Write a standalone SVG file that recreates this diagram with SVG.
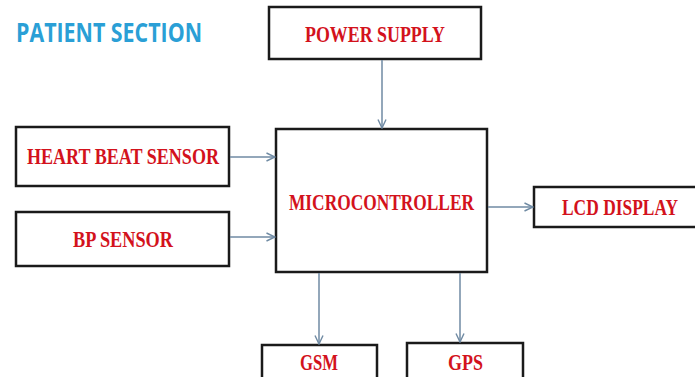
<svg xmlns="http://www.w3.org/2000/svg" width="695" height="377" viewBox="0 0 695 377">
<defs>
<marker id="arr" viewBox="0 0 10 10" refX="9.5" refY="5" markerWidth="10" markerHeight="10" markerUnits="userSpaceOnUse" orient="auto">
<path d="M1,1 L9.5,5 L1,9" fill="none" stroke="#6f8aa3" stroke-width="1.4"/>
</marker>
</defs>
<style>
.box{fill:#fff;stroke:#1a1a1a;stroke-width:2.5}
.lbl{font-family:"Liberation Serif","Times New Roman",serif;font-weight:bold;font-size:23px;fill:#d3121c}
.conn{stroke:#6f8aa3;stroke-width:1.5;fill:none;marker-end:url(#arr)}
.title{font-family:"Open Sans","Liberation Sans",Arial,sans-serif;font-weight:bold;font-size:26px;fill:#2a9fd6}
</style>
<rect width="695" height="377" fill="#fff"/>
<text class="title" x="16" y="42" textLength="186" lengthAdjust="spacingAndGlyphs">PATIENT SECTION</text>
<g id="power">
<rect class="box" x="269" y="7" width="212" height="52"/>
<text class="lbl" x="305" y="42" textLength="140" lengthAdjust="spacingAndGlyphs">POWER SUPPLY</text>
</g>
<g id="heart">
<rect class="box" x="16" y="127" width="213" height="59"/>
<text class="lbl" x="27" y="164" textLength="192" lengthAdjust="spacingAndGlyphs">HEART BEAT SENSOR</text>
</g>
<g id="bp">
<rect class="box" x="16" y="212" width="213" height="54"/>
<text class="lbl" x="73" y="247" textLength="100" lengthAdjust="spacingAndGlyphs">BP SENSOR</text>
</g>
<g id="mcu">
<rect class="box" x="276" y="129" width="211" height="143"/>
<text class="lbl" x="289" y="210" textLength="185" lengthAdjust="spacingAndGlyphs">MICROCONTROLLER</text>
</g>
<g id="lcd">
<rect class="box" x="534" y="187" width="170" height="40"/>
<text class="lbl" x="562" y="215" textLength="116" lengthAdjust="spacingAndGlyphs">LCD DISPLAY</text>
</g>
<g id="gsm">
<rect class="box" x="262" y="345" width="115" height="40"/>
<text class="lbl" x="300" y="370" textLength="38" lengthAdjust="spacingAndGlyphs">GSM</text>
</g>
<g id="gps">
<rect class="box" x="407" y="343" width="116" height="42"/>
<text class="lbl" x="448" y="370" textLength="35" lengthAdjust="spacingAndGlyphs">GPS</text>
</g>
<g id="connectors">
<line class="conn" x1="382" y1="60" x2="382" y2="128"/>
<line class="conn" x1="230" y1="157" x2="275" y2="157"/>
<line class="conn" x1="230" y1="237" x2="275" y2="237"/>
<line class="conn" x1="488" y1="207" x2="533" y2="207"/>
<line class="conn" x1="319" y1="273" x2="319" y2="344"/>
<line class="conn" x1="460" y1="273" x2="460" y2="342"/>
</g>
</svg>
